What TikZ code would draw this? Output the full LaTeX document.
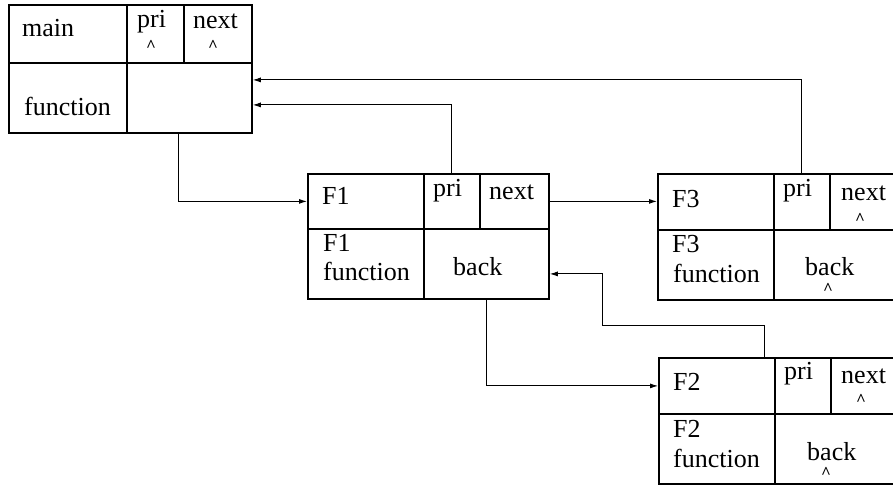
\documentclass[tikz,border=0pt]{standalone}
\usepackage{fontspec}
\setmainfont{Liberation Serif}
\usetikzlibrary{arrows.meta}
\begin{document}
\begin{tikzpicture}[x=1pt,y=-1pt,
  cell/.style={draw, line width=1.8pt, inner sep=0pt, anchor=north west},
  lbl/.style={anchor=base west, inner sep=0pt, font=\fontsize{26}{28}\selectfont},
  caret/.style={inner sep=0pt, font=\fontsize{17}{17}\selectfont\bfseries},
  conn/.style={line width=0.9pt, -{Latex[length=8pt,width=5pt]}}]
\useasboundingbox (0,0) rectangle (893,485);
\clip (0,0) rectangle (893,485);
% main box
\node[cell, minimum width=118pt, minimum height=58pt] (mainName) at (8,4) {};
\node[cell, minimum width=57pt, minimum height=58pt] (mainPri) at (126,4) {};
\node[cell, minimum width=68pt, minimum height=58pt] (mainNext) at (183,4) {};
\node[cell, minimum width=118pt, minimum height=70pt] (mainFn) at (8,62) {};
\node[cell, minimum width=125pt, minimum height=70pt] (mainBody) at (126,62) {};
\node[lbl] (tmain) at (22,36) {main};
\node[lbl] (tmpri) at (137,27) {pri};
\node[caret] (cmpri) at (151,46) {\textasciicircum};
\node[lbl] (tmnext) at (193,28) {next};
\node[caret] (cmnext) at (213,46) {\textasciicircum};
\node[lbl] (tmfn) at (24,115) {function};
% F1 box
\node[cell, minimum width=116pt, minimum height=55pt] (F1name) at (307,173) {};
\node[cell, minimum width=56pt, minimum height=55pt] (F1pri) at (423,173) {};
\node[cell, minimum width=69pt, minimum height=55pt] (F1next) at (479,173) {};
\node[cell, minimum width=116pt, minimum height=70pt] (F1fn) at (307,228) {};
\node[cell, minimum width=125pt, minimum height=70pt] (F1back) at (423,228) {};
\node[lbl] (t1a) at (322,204) {F1};
\node[lbl] (t1b) at (433,196) {pri};
\node[lbl] (t1c) at (489,199) {next};
\node[lbl] (t1d) at (323,251) {F1};
\node[lbl] (t1e) at (323,280) {function};
\node[lbl] (t1f) at (453,275) {back};
% F3 box
\node[cell, minimum width=116pt, minimum height=56pt] (F3name) at (657,173) {};
\node[cell, minimum width=56pt, minimum height=56pt] (F3pri) at (773,173) {};
\node[cell, minimum width=69pt, minimum height=56pt] (F3next) at (829,173) {};
\node[cell, minimum width=116pt, minimum height=70pt] (F3fn) at (657,229) {};
\node[cell, minimum width=125pt, minimum height=70pt] (F3back) at (773,229) {};
\node[lbl] (t3a) at (672,207) {F3};
\node[lbl] (t3b) at (783,196) {pri};
\node[lbl] (t3c) at (841,200) {next};
\node[caret] (c3c) at (860,219) {\textasciicircum};
\node[lbl] (t3d) at (672,252) {F3};
\node[lbl] (t3e) at (673,282) {function};
\node[lbl] (t3f) at (805,275) {back};
\node[caret] (c3f) at (828,289) {\textasciicircum};
% F2 box
\node[cell, minimum width=116pt, minimum height=56pt] (F2name) at (658,357) {};
\node[cell, minimum width=56pt, minimum height=56pt] (F2pri) at (774,357) {};
\node[cell, minimum width=69pt, minimum height=56pt] (F2next) at (830,357) {};
\node[cell, minimum width=116pt, minimum height=70pt] (F2fn) at (658,413) {};
\node[cell, minimum width=125pt, minimum height=70pt] (F2back) at (774,413) {};
\node[lbl] (t2a) at (673,390) {F2};
\node[lbl] (t2b) at (784,379) {pri};
\node[lbl] (t2c) at (841,383) {next};
\node[caret] (c2c) at (861,400) {\textasciicircum};
\node[lbl] (t2d) at (673,437) {F2};
\node[lbl] (t2e) at (673,467) {function};
\node[lbl] (t2f) at (807,460) {back};
\node[caret] (c2f) at (826,473) {\textasciicircum};
% connectors
\coordinate (turn) at (602,325);
\draw[conn] ([xshift=-11pt]mainBody.south) |- (F1name.west);
\draw[conn] (F1pri.north) |- ([yshift=-7pt]mainBody.east);
\draw[conn] (F3pri.north) |- ([yshift=18pt]mainBody.east);
\draw[conn] (F1next.east) -- (F1next.east -| F3name.west);
\draw[conn] (F1back.south) |- (F2name.west);
\draw[conn] ([xshift=-11pt]F2name.north east) |- (turn) |- ([yshift=-10pt]F1back.east);
\end{tikzpicture}
\end{document}
